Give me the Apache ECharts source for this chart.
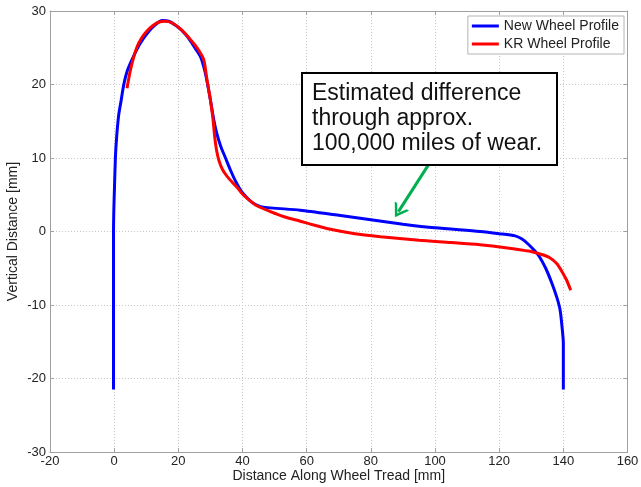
<!DOCTYPE html>
<html>
<head>
<meta charset="utf-8">
<script src="https://cdn.jsdelivr.net/npm/echarts@6/dist/echarts.min.js"></script>
<style>
html, body { margin: 0; padding: 0; background: #fff; }
#chart_container { width: 641px; height: 487px; }
</style>
</head>
<body>
<div id="chart_container"></div>
<script>
// profile points: [distance along tread, vertical distance]
var new_profile = [
    [-0.2, -21.5], [-0.2, -10], [-0.2, 0], [-0.1, 3], [0.1, 6], [0.4, 10.2], [0.8, 13],
    [1.4, 15.8], [2.2, 17.9], [3, 20], [4.2, 22], [6, 23.8], [8, 25.5], [10, 26.8],
    [12.5, 28], [15, 28.7], [17, 28.6], [19, 28.1], [21, 27.4], [23, 26.4], [25, 25.1],
    [26.9, 23.8], [28.3, 21.8], [29.3, 19.6], [30, 17.9], [31, 15.3], [32, 13.3],
    [33.2, 11.6], [34.7, 10], [36.3, 8.3], [38, 6.7], [39.6, 5.5], [41.4, 4.6],
    [43.5, 3.8], [46, 3.35], [58, 2.9], [70, 2.2], [80, 1.6], [90, 1.0], [100, 0.5],
    [114, 0], [120, -0.3], [125, -0.6], [127, -1.0], [129, -1.7], [131, -2.6],
    [132.5, -3.4], [134.5, -5], [136.4, -7], [138, -9], [139, -10.7], [139.6, -13],
    [140, -15.2], [140, -21.5]
];
var kr_profile = [
    [4, 19.5], [5, 21.8], [6, 23.6], [7.2, 25.2], [8.5, 26.3], [10.3, 27.3], [12, 28],
    [14, 28.5], [16, 28.6], [18, 28.4], [20, 27.8], [22, 27], [24, 26], [26, 24.9],
    [27.9, 23.4], [28.8, 21], [29.5, 19.2], [30, 17.9], [30.8, 15.3], [31.3, 13],
    [31.9, 11.1], [32.7, 9.6], [33.8, 8.4], [35.2, 7.5], [36.8, 6.7], [38.5, 5.9],
    [40, 5.1], [42, 4.3], [44.5, 3.5], [48.7, 2.7], [53, 2.0], [58, 1.4], [62, 0.9],
    [67.4, 0.3], [75, -0.3], [83, -0.7], [95, -1.2], [105, -1.5], [114, -1.8],
    [122, -2.2], [129.6, -2.7], [133, -3.1], [135.9, -3.6], [138, -4.4], [139.5, -5.4],
    [141, -6.6], [142.3, -8.0]
];
var series_names = ['New Wheel Profile', 'KR Wheel Profile'];
var note_lines = ['Estimated difference', 'through approx.', '100,000 miles of wear.'];
var arrow_from = [98, 9.1];
var arrow_to = [88.6, 2.7];

var font = '"Liberation Sans", Arial, sans-serif';
var dom = document.getElementById("chart_container");
var myChart = echarts.init(dom);

var tick_style = { show: true, inside: true, length: 4, lineStyle: { color: '#a0a0a0' } };
var grid_line = { show: true, lineStyle: { color: '#c8c8c8', type: [1, 2], width: 1 } };

var option = {
    animation: false,
    backgroundColor: '#fff',
    grid: { left: 50, right: 13.5, top: 11, bottom: 35, containLabel: false, outerBoundsMode: 'none' },
    legend: {
        data: series_names,
        orient: 'vertical',
        right: 17,
        top: 16,
        padding: [3, 5, 3, 4],
        itemGap: 4,
        itemWidth: 27,
        itemHeight: 3,
        icon: 'rect',
        backgroundColor: '#fff',
        borderColor: '#b4b4b4',
        borderWidth: 1,
        borderRadius: 0,
        textStyle: { fontFamily: font, fontSize: 14, color: '#222' }
    },
    xAxis: [{
        type: 'value', min: -20, max: 160, interval: 20,
        name: 'Distance Along Wheel Tread [mm]', nameLocation: 'middle', nameGap: 17,
        nameMoveOverlap: false,
        nameTextStyle: { fontFamily: font, fontSize: 14, color: '#222' },
        axisLine: { show: true, onZero: false, lineStyle: { color: '#a0a0a0' } },
        axisTick: tick_style,
        axisLabel: { fontFamily: font, fontSize: 13, color: '#222', margin: 3 },
        splitLine: grid_line
    }, {
        type: 'value', min: -20, max: 160, interval: 20, position: 'top',
        axisLine: { show: true, onZero: false, lineStyle: { color: '#a0a0a0' } },
        axisTick: tick_style, axisLabel: { show: false }, splitLine: { show: false }
    }],
    yAxis: [{
        type: 'value', min: -30, max: 30, interval: 10,
        name: 'Vertical Distance [mm]', nameLocation: 'middle', nameGap: 30,
        nameMoveOverlap: false,
        nameTextStyle: { fontFamily: font, fontSize: 14, color: '#222' },
        axisLine: { show: true, onZero: false, lineStyle: { color: '#a0a0a0' } },
        axisTick: tick_style,
        axisLabel: { fontFamily: font, fontSize: 13, color: '#222', margin: 4 },
        splitLine: grid_line
    }, {
        type: 'value', min: -30, max: 30, interval: 10, position: 'right',
        axisLine: { show: true, onZero: false, lineStyle: { color: '#a0a0a0' } },
        axisTick: tick_style, axisLabel: { show: false }, splitLine: { show: false }
    }],
    series: [
        {
            name: series_names[0], type: 'line', data: new_profile,
            showSymbol: false, smooth: 0.25, color: '#0000ff',
            lineStyle: { width: 3, color: '#0000ff' }
        },
        {
            name: series_names[1], type: 'line', data: kr_profile,
            showSymbol: false, smooth: 0.25, color: '#ff0000',
            lineStyle: { width: 3, color: '#ff0000' }
        },
        {
            name: 'note', type: 'line', data: [],
            markLine: {
                silent: true,
                symbol: ['none', 'path://M0,14 L9,0 L18,14 L15,14 L9,5 L3,14 Z'],
                symbolSize: [17, 13],
                label: { show: false },
                lineStyle: { color: '#00b050', width: 3, type: 'solid' },
                data: [[{ coord: arrow_from }, { coord: arrow_to }]]
            }
        }
    ],
    graphic: [{
        type: 'group', left: 301, top: 72, z: 100,
        children: [{
            type: 'rect', z: 100,
            shape: { x: 0, y: 0, width: 255, height: 92 },
            style: { fill: '#fff', stroke: '#000', lineWidth: 2 }
        }, {
            type: 'text', x: 10, y: 8, z: 101,
            style: {
                text: note_lines.join('\n'),
                font: '23px ' + font,
                lineHeight: 25,
                fill: '#111'
            }
        }]
    }]
};

myChart.setOption(option, true);
</script>
</body>
</html>
